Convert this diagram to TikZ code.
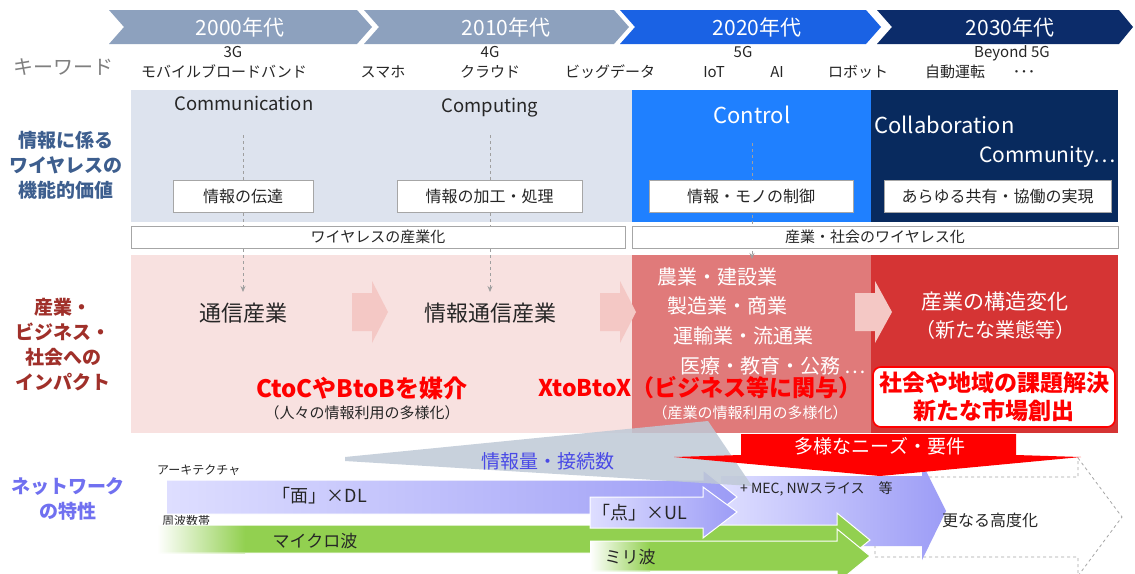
\documentclass[tikz,border=0pt]{standalone}
\usepackage{fontspec}
\setmainfont{Noto Sans CJK JP}
\usetikzlibrary{arrows.meta}
\definecolor{chevgray}{HTML}{8DA1BE}
\definecolor{chevblue}{HTML}{1A62E4}
\definecolor{chevnavy}{HTML}{0C2C6A}
\definecolor{panellight}{HTML}{DDE3EE}
\definecolor{panelblue}{HTML}{1F80FF}
\definecolor{panelnavy}{HTML}{082A5E}
\definecolor{labblue}{HTML}{3D5E8E}
\definecolor{labred}{HTML}{A0302A}
\definecolor{labviolet}{HTML}{7070F0}
\definecolor{pinkpanel}{HTML}{F8E1E0}
\definecolor{pinkarrow}{HTML}{F4C8C5}
\definecolor{midred}{HTML}{E07A7A}
\definecolor{deepred}{HTML}{D53434}
\definecolor{brightred}{HTML}{FF0000}
\definecolor{wedgegray}{HTML}{BFC9D6}
\definecolor{wedgetext}{HTML}{4A4AE6}
\definecolor{lavlight}{HTML}{DEDEFF}
\definecolor{lavdark}{HTML}{9C9CF6}
\definecolor{mygreen}{HTML}{92D050}
\definecolor{boxborder}{HTML}{A6A6A6}
\definecolor{keygray}{HTML}{7F7F7F}
\definecolor{textdark}{HTML}{262626}
\newcommand\fsz[2]{\fontsize{#1}{#2}\selectfont}
\tikzset{
  chevtext/.style={text=white, font=\fsz{21}{24}, inner sep=0},
  kwtext/.style={text=textdark, font=\fsz{15}{18}, inner sep=0, text height=11pt, text depth=3pt},
  funcbox/.style={draw=boxborder, fill=white, line width=0.8pt, inner sep=0, font=\fsz{16}{19}, text=textdark, minimum height=32pt},
  widebox/.style={draw=boxborder, fill=white, line width=0.8pt, inner sep=0, font=\fsz{15}{18}, text=textdark, minimum height=22pt},
  seclabel/.style={font=\bfseries\fsz{19}{25}, align=center, inner sep=0},
  dashlink/.style={draw=gray!75, dashed, line width=0.8pt, -{Stealth[length=6pt,width=5pt]}},
  valtext/.style={inner sep=0, font=\fsz{18}{21}},
  bigtext/.style={inner sep=0, font=\fsz{22}{26}, text=textdark},
  indtext/.style={inner sep=0, font=\fsz{20}{24}, text=white, anchor=west},
  redbold/.style={inner sep=0, font=\bfseries\fsz{24}{28}, text=brightred},
  subtext/.style={inner sep=0, font=\fsz{15}{18}},
  smalltext/.style={inner sep=0, font=\fsz{12}{14}, text=textdark, anchor=west},
  arrtext/.style={inner sep=0, font=\fsz{18}{21}, text=textdark},
  whiteedge/.style={draw=white, line width=1pt},
}
\begin{document}
\begin{tikzpicture}[x=1pt,y=-1pt]
\useasboundingbox (0,0) rectangle (1135,573);
\fill[white] (0,0) rectangle (1135,573);

% ---------- header chevrons ----------
\fill[chevgray] (109,10) -- (357,10) -- (372,27) -- (357,44) -- (109,44) -- (124,27) -- cycle;
\fill[chevgray] (364,10) -- (614,10) -- (629,27) -- (614,44) -- (364,44) -- (379,27) -- cycle;
\fill[chevblue] (620,10) -- (866,10) -- (881,27) -- (866,44) -- (620,44) -- (635,27) -- cycle;
\fill[chevnavy] (877,10) -- (1119,10) -- (1133,27) -- (1119,44) -- (877,44) -- (892,27) -- cycle;
\node[chevtext] (y2000) at (240,27) {2000年代};
\node[chevtext] (y2010) at (506,27) {2010年代};
\node[chevtext] (y2020) at (757,27) {2020年代};
\node[chevtext] (y2030) at (1010,27) {2030年代};

% ---------- keywords ----------
\node[inner sep=0, font=\fsz{20}{24}, text=keygray] (kwlabel) at (63,67) {キーワード};
\node[kwtext] (kw3g) at (233,53) {3G};
\node[kwtext] (kwmb) at (224,73) {モバイルブロードバンド};
\node[kwtext] (kw4g) at (490,53) {4G};
\node[kwtext] (kwsm) at (383,73) {スマホ};
\node[kwtext] (kwcl) at (490,73) {クラウド};
\node[kwtext] (kwbd) at (610,73) {ビッグデータ};
\node[kwtext] (kw5g) at (743,53) {5G};
\node[kwtext] (kwiot) at (714,73) {IoT};
\node[kwtext] (kwai) at (777,73) {AI};
\node[kwtext] (kwrb) at (858,73) {ロボット};
\node[kwtext] (kwb5) at (1012,53) {Beyond 5G};
\node[kwtext] (kwad) at (955,73) {自動運転};
\node[kwtext] (kwdots) at (1024,73) {･･･};

% ---------- panels ----------
\fill[panellight] (131,90) rectangle (632,222);
\fill[panelblue] (632,90) rectangle (871,222);
\fill[panelnavy] (871,90) rectangle (1118,222);
\fill[pinkpanel] (131,255) rectangle (632,433);
\fill[midred] (632,255) rectangle (871,433);
\fill[deepred] (871,255) rectangle (1118,433);

% ---------- section labels ----------
\node[seclabel, text=labblue] (lab1) at (66,165) {情報に係る\\ワイヤレスの\\機能的価値};
\node[seclabel, text=labred] (lab2) at (63,345) {産業・\\ビジネス・\\社会への\\インパクト};
\node[seclabel, text=labviolet] (lab3) at (68,499) {ネットワーク\\の特性};

% ---------- function values ----------
\node[valtext, text=textdark, font=\fsz{18.5}{22}] (comm) at (244,103) {Communication};
\node[valtext, text=textdark, font=\fsz{18.5}{22}] (comp) at (490,108) {Computing};
\node[valtext, text=white, font=\fsz{22}{26}] (ctrl) at (752,115) {Control};
\node[valtext, text=white, font=\fsz{22}{26}, anchor=west] (collab) at (874,125) {Collaboration};
\node[valtext, text=white, font=\fsz{21}{25}, anchor=east] (commu) at (1116,157) {Community…};

\coordinate (d1s) at (243,135); \coordinate (d1e) at (243,292);
\coordinate (d2s) at (490,135); \coordinate (d2e) at (490,292);
\coordinate (d3s) at (752,143); \coordinate (d3e) at (752,259);
\draw[dashlink] (d1s) -- (d1e);
\draw[dashlink] (d2s) -- (d2e);
\draw[dashlink] (d3s) -- (d3e);

\node[funcbox, minimum width=140pt] (f1) at (243,196) {情報の伝達};
\node[funcbox, minimum width=185pt] (f2) at (489.5,196) {情報の加工・処理};
\node[funcbox, minimum width=204pt] (f3) at (751,196) {情報・モノの制御};
\node[funcbox, minimum width=227pt] (f4) at (997.5,196) {あらゆる共有・協働の実現};
\node[widebox, minimum width=494pt] (w1) at (378,237) {ワイヤレスの産業化};
\node[widebox, minimum width=486pt] (w2) at (875,237) {産業・社会のワイヤレス化};

% ---------- impact ----------
\fill[pinkarrow] (352,293) -- (372,293) -- (372,281) -- (388,312) -- (372,343) -- (372,331) -- (352,331) -- cycle;
\fill[pinkarrow] (600,293) -- (620,293) -- (620,281) -- (636,312) -- (620,343) -- (620,331) -- (600,331) -- cycle;
\fill[pinkarrow] (855,293) -- (875,293) -- (875,281) -- (892,312) -- (875,343) -- (875,331) -- (855,331) -- cycle;

\node[bigtext] (ind1) at (243,313) {通信産業};
\node[bigtext] (ind2) at (490,313) {情報通信産業};
\node[indtext] (ind3a) at (657,277) {農業・建設業};
\node[indtext] (ind3b) at (667,306) {製造業・商業};
\node[indtext] (ind3c) at (673,336) {運輸業・流通業};
\node[indtext] (ind3d) at (680,366) {医療・教育・公務 …};
\node[inner sep=0, font=\fsz{21}{25}, text=white] (ind4a) at (995,302) {産業の構造変化};
\node[inner sep=0, font=\fsz{20}{24}, text=white] (ind4b) at (995,330) {（新たな業態等）};

\node[redbold] (ctoc) at (362,388) {CtoCやBtoBを媒介};
\node[subtext, text=textdark] (ctocsub) at (362,413) {（人々の情報利用の多様化）};
\node[redbold, font=\bfseries\fsz{23}{27}] (xtob) at (700,388) {XtoBtoX（ビジネス等に関与）};
\node[subtext, text=white] (xtobsub) at (750,413) {（産業の情報利用の多様化）};
\node[draw=brightred, fill=white, rounded corners=8pt, line width=1.6pt, minimum width=242pt, minimum height=60pt, align=center, inner sep=0, font=\bfseries\fsz{23}{28}, text=brightred] (solve) at (994,397) {社会や地域の課題解決\\新たな市場創出};

% ---------- network ----------
\node[smalltext] (archlab) at (157,470) {アーキテクチャ};
\node[smalltext] (freqlab) at (162,521) {周波数帯};

% dashed outline arrow
\draw[dashed, draw=gray!70, fill=white, line width=0.8pt] (875,477) -- (1078,477) -- (1078,458) -- (1122,517) -- (1078,576) -- (1078,557) -- (875,557) -- cycle;
% MEC arrow
\shade[left color=lavlight, right color=lavdark] (721,476) -- (922,476) -- (922,463) -- (946,511) -- (922,560) -- (922,546) -- (721,546) -- cycle;
% microwave arrow
\fill[mygreen] (157,525) -- (837,525) -- (837,513) -- (870,540) -- (837,567) -- (837,553) -- (157,553) -- cycle;
\shade[left color=white, right color=mygreen] (157,525) rectangle (245,553);
\draw[whiteedge] (157,525) -- (837,525) -- (837,513) -- (870,540) -- (837,567) -- (837,553) -- (157,553);
% mm-wave arrow
\fill[mygreen] (590,541) -- (837,541) -- (837,529) -- (870,556) -- (837,583) -- (837,571) -- (590,571) -- cycle;
\shade[left color=white, right color=mygreen] (590,541) rectangle (650,571);
\draw[whiteedge] (590,541) -- (837,541) -- (837,529) -- (870,556) -- (837,583) -- (837,571) -- (590,571);
% DL arrow
\shade[left color=lavlight, right color=lavdark] (167,480) -- (703,480) -- (703,470) -- (737,497) -- (703,524) -- (703,514) -- (167,514) -- cycle;
\draw[whiteedge] (167,480) -- (703,480) -- (703,470) -- (737,497) -- (703,524) -- (703,514) -- (167,514);
% UL arrow
\shade[left color=lavlight, right color=lavdark] (590,497) -- (703,497) -- (703,487) -- (737,512) -- (703,538) -- (703,528) -- (590,528) -- cycle;
\draw[whiteedge] (590,497) -- (703,497) -- (703,487) -- (737,512) -- (703,538) -- (703,528) -- (590,528) -- cycle;
% wedge
\fill[wedgegray, opacity=0.85] (345,457) -- (708,421) -- (752,486) -- (345,461) -- cycle;
% red needs arrow
\fill[brightred] (741,434) -- (1016,434) -- (1016,455) -- (1081,457) -- (880,476) -- (674,457) -- (741,455) -- cycle;

\node[inner sep=0, font=\fsz{19}{22}, text=white] (needs) at (880,446) {多様なニーズ・要件};
\node[inner sep=0, font=\fsz{19}{22}, text=wedgetext] (volume) at (548,461) {情報量・接続数};
\node[arrtext] (dl) at (320,496) {「面」×DL};
\node[arrtext] (ul) at (640,513) {「点」×UL};
\node[arrtext, font=\fsz{17}{20}] (micro) at (315,541) {マイクロ波};
\node[arrtext, font=\fsz{17}{20}] (milli) at (630,557) {ミリ波};
\node[inner sep=0, font=\fsz{14}{17}, text=textdark, anchor=west] (mec) at (740,489) {+ MEC, NWスライス　等};
\node[inner sep=0, font=\fsz{16}{19}, text=textdark, anchor=west] (further) at (942,520) {更なる高度化};
\end{tikzpicture}
\end{document}
